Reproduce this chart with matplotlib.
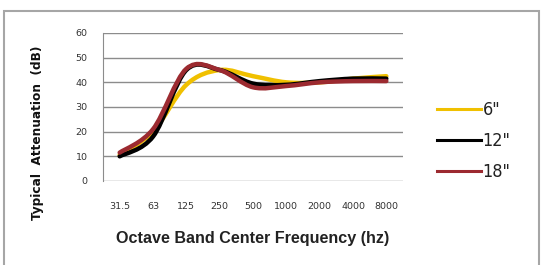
import numpy as np
import matplotlib.pyplot as plt
from matplotlib.path import Path
from matplotlib.patches import PathPatch, Rectangle
from matplotlib.lines import Line2D

# octave band centre frequencies (category axis)
bands = ['31.5', '63', '125', '250', '500', '1000', '2000', '4000', '8000']

# typical attenuation (dB) per duct length
att_6 = [10.5, 20, 39, 45, 42.5, 40, 40, 41.5, 42.5]
att_12 = [10, 18, 45, 45, 39.5, 39, 40.5, 41.5, 41.5]
att_18 = [11.5, 21, 45.5, 45, 38, 38.5, 40, 40.5, 40.5]

series = [('6"', att_6, '#f0c000'), ('12"', att_12, '#000000'), ('18"', att_18, '#9c2a30')]


def smooth_path(xs, ys):
    """Excel-like smoothed line: cubic Bezier through each point (Catmull-Rom tangents)"""
    pts = np.column_stack([xs, ys]).astype(float)
    n = len(pts)
    verts = [pts[0]]
    codes = [Path.MOVETO]
    for i in range(n - 1):
        p0 = pts[max(i - 1, 0)]
        p1 = pts[i]
        p2 = pts[i + 1]
        p3 = pts[min(i + 2, n - 1)]
        c1 = p1 + (p2 - p0) / 6.0
        c2 = p2 - (p3 - p1) / 6.0
        verts += [c1, c2, p2]
        codes += [Path.CURVE4] * 3
    return Path(verts, codes)


fig = plt.figure(figsize=(5.46, 2.65), dpi=100)
fig.patch.set_facecolor('white')

# outer frame
fig.patches.append(Rectangle((4 / 546, -0.01), 535 / 546, 1 - 11 / 265 + 0.01,
                             transform=fig.transFigure, fill=False,
                             edgecolor='#a6a6a6', linewidth=1.5))

ax = fig.add_axes([103 / 546, 1 - 181 / 265, 300 / 546, 148 / 265])
x = np.arange(len(bands))

for label, vals, color in series:
    ax.add_patch(PathPatch(smooth_path(x, vals), fill=False, edgecolor=color,
                           linewidth=3.2, capstyle='round', joinstyle='round', zorder=3))

ax.set_xlim(-0.5, len(bands) - 0.5)
ax.set_ylim(0, 60)
ax.set_yticks(range(0, 61, 10))
ax.set_xticks(x)
ax.set_xticklabels(bands)
ax.tick_params(length=0, labelsize=6.8, colors='#333333')
ax.tick_params(axis='x', pad=15)
ax.tick_params(axis='y', pad=11)
ax.grid(axis='y', color='#8c8c8c', linewidth=1.0)
ax.set_axisbelow(True)
for s in ['top', 'right', 'bottom']:
    ax.spines[s].set_visible(False)
ax.spines['left'].set_color('#8c8c8c')

fig.text(38 / 546, 1 - 133 / 265, 'Typical  Attenuation  (dB)', rotation=90,
         ha='center', va='center', fontsize=9.7, fontweight='bold',
         fontstretch='condensed', color='#111111')
fig.text(253 / 546, 1 - 238 / 265, 'Octave Band Center Frequency (hz)',
         ha='center', va='center', fontsize=11.6, fontweight='bold',
         family='Liberation Sans', color='#222222')

handles = [Line2D([], [], color=c, linewidth=2.2) for _, _, c in series]
leg = fig.legend(handles, [s[0] for s in series], loc='center left',
                 bbox_to_anchor=(421 / 546, 1 - 141 / 265), frameon=False,
                 handlelength=2.4, handletextpad=0.1, labelspacing=0.72,
                 prop={'size': 13, 'stretch': 'condensed'})
for t in leg.get_texts():
    t.set_color('#222222')

fig.savefig('out.png', dpi=100)
